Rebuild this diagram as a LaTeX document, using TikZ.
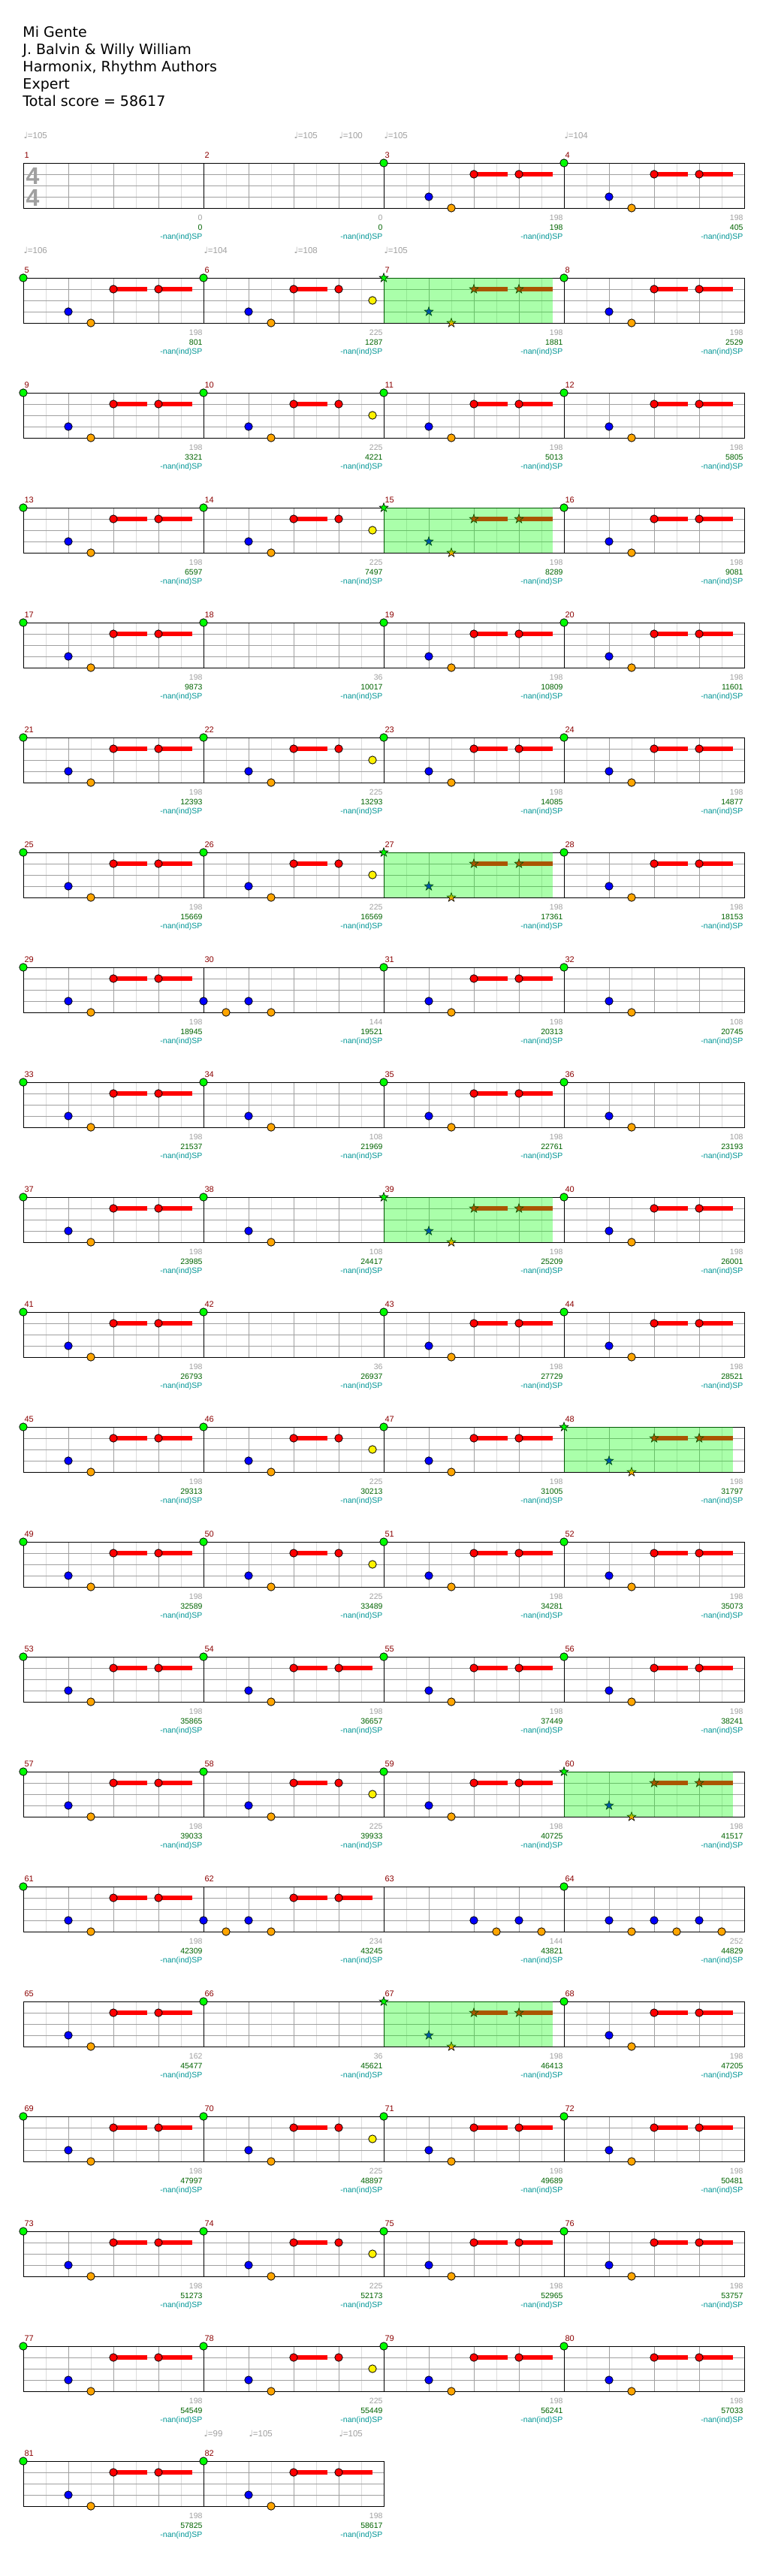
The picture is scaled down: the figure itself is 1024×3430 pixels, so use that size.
\documentclass[tikz,border=0pt]{standalone}
\usepackage{fontspec}
\setmainfont{DejaVu Sans}
\newfontfamily\labfont{Liberation Sans}
\usetikzlibrary{positioning}
\definecolor{mnumc}{RGB}{139,0,0}
\definecolor{cntc}{RGB}{160,160,160}
\definecolor{scrc}{RGB}{0,100,0}
\definecolor{spc}{RGB}{0,150,150}
\definecolor{gridlt}{RGB}{220,220,220}
\definecolor{griddk}{RGB}{160,160,160}
\definecolor{gemorange}{RGB}{255,165,0}
\tikzset{
  gem/.style={draw=black,line width=.8pt},
  lbl/.style={anchor=base east,inner sep=0pt,font=\labfont\fontsize{10.5}{12}\selectfont},
  mnum/.style={anchor=base west,inner sep=0pt,text=mnumc,font=\labfont\fontsize{11}{12}\selectfont},
  bpm/.style={anchor=base west,inner sep=0pt,text=cntc,font=\fontsize{11.5}{12}\selectfont},
  head/.style={anchor=base west,inner sep=0pt,font=\fontsize{19}{23}\selectfont},
  timesig/.style={anchor=base west,inner sep=0pt,text=cntc,font=\labfont\bfseries\fontsize{32}{32}\selectfont}
}
\newcommand{\gemdot}[3]{\filldraw[gem,fill=#3] (\mx+#1,\my+15*#2) circle (5.2pt);}
\newcommand{\stargem}[3]{\filldraw[gem,line width=.6pt,fill=#3] (\mx+#1,\my+15*#2) +(-90:6.3) -- +(-54:2.5) -- +(-18:6.3) -- +(18:2.5) -- +(54:6.3) -- +(90:2.5) -- +(126:6.3) -- +(162:2.5) -- +(198:6.3) -- +(234:2.5) -- cycle;}
\newcommand{\tailbar}[3]{\fill[#3] (\mx+#1,\my+15*#2-3.3) rectangle ++(44.7,6.6);}
\newcommand{\mtE}{}
\newcommand{\mtS}{\tailbar{120}{1}{red}\tailbar{180}{1}{red}\gm{0}{0}{green}\gm{60}{3}{blue}\gm{90}{4}{gemorange}\gm{120}{1}{red}\gm{180}{1}{red}}
\newcommand{\mtY}{\tailbar{120}{1}{red}\gm{0}{0}{green}\gm{60}{3}{blue}\gm{90}{4}{gemorange}\gm{120}{1}{red}\gm{180}{1}{red}\gm{225}{2}{yellow}}
\newcommand{\mtP}{\let\gm\stargem\mtS\fill[green,opacity=.333] (\mx,\my) rectangle (\mx+224.5,\my+60);}
\newcommand{\mtG}{\gm{0}{0}{green}}
\newcommand{\mtT}{\gm{0}{0}{green}\gm{60}{3}{blue}\gm{90}{4}{gemorange}}
\newcommand{\mtA}{\gm{0}{3}{blue}\gm{30}{4}{gemorange}\gm{60}{3}{blue}\gm{90}{4}{gemorange}}
\newcommand{\mtB}{\tailbar{120}{1}{red}\tailbar{180}{1}{red}\mtA\gm{120}{1}{red}\gm{180}{1}{red}}
\newcommand{\mtC}{\gm{120}{3}{blue}\gm{150}{4}{gemorange}\gm{180}{3}{blue}\gm{210}{4}{gemorange}}
\newcommand{\mtD}{\mtT\mtC}
\newcommand{\mtF}{\tailbar{120}{1}{red}\tailbar{180}{1}{red}\gm{60}{3}{blue}\gm{90}{4}{gemorange}\gm{120}{1}{red}\gm{180}{1}{red}}
\begin{document}
\begin{tikzpicture}[x=1pt,y=-1pt,line width=1pt]
  \fill[white] (0,0) rectangle (1024,3430);
  \useasboundingbox (0,0) rectangle (1024,3430);
  \node[head] (t1) at (30,49) {Mi Gente};
  \node[head] (t2) at (30,72) {J. Balvin \& Willy William};
  \node[head] (t3) at (30,95) {Harmonix, Rhythm Authors};
  \node[head] (t4) at (30,118) {Expert};
  \node[head] (t5) at (30,141) {Total score = 58617};
  \foreach \mtype/\mcount/\mscore [count=\i from 0] in {
    E/0/0, E/0/0, S/198/198, S/198/405,
    S/198/801, Y/225/1287, P/198/1881, S/198/2529,
    S/198/3321, Y/225/4221, S/198/5013, S/198/5805,
    S/198/6597, Y/225/7497, P/198/8289, S/198/9081,
    S/198/9873, G/36/10017, S/198/10809, S/198/11601,
    S/198/12393, Y/225/13293, S/198/14085, S/198/14877,
    S/198/15669, Y/225/16569, P/198/17361, S/198/18153,
    S/198/18945, A/144/19521, S/198/20313, T/108/20745,
    S/198/21537, T/108/21969, S/198/22761, T/108/23193,
    S/198/23985, T/108/24417, P/198/25209, S/198/26001,
    S/198/26793, G/36/26937, S/198/27729, S/198/28521,
    S/198/29313, Y/225/30213, S/198/31005, P/198/31797,
    S/198/32589, Y/225/33489, S/198/34281, S/198/35073,
    S/198/35865, S/198/36657, S/198/37449, S/198/38241,
    S/198/39033, Y/225/39933, S/198/40725, P/198/41517,
    S/198/42309, B/234/43245, C/144/43821, D/252/44829,
    F/162/45477, G/36/45621, P/198/46413, S/198/47205,
    S/198/47997, Y/225/48897, S/198/49689, S/198/50481,
    S/198/51273, Y/225/52173, S/198/52965, S/198/53757,
    S/198/54549, Y/225/55449, S/198/56241, S/198/57033,
    S/198/57825, S/198/58617} {
    \pgfmathsetmacro{\mx}{31+240*mod(\i,4)}
    \pgfmathsetmacro{\my}{217+153*int(\i/4)}
    \pgfmathtruncatemacro{\n}{\i+1}
    \foreach \o in {30,90,150,210} {\draw[gridlt] (\mx+\o,\my) -- (\mx+\o,\my+60);}
    \foreach \o in {60,120,180} {\draw[griddk] (\mx+\o,\my) -- (\mx+\o,\my+60);}
    \foreach \l in {15,30,45} {\draw[griddk] (\mx,\my+\l) -- (\mx+240,\my+\l);}
    \draw (\mx,\my) rectangle (\mx+240,\my+60);
    \let\gm\gemdot
    \csname mt\mtype\endcsname
    \node[mnum] (mn\n) at (\mx+1,\my-7) {\n};
    \node[lbl,text=cntc] (cnt\n) at (\mx+239,\my+76) {\mcount};
    \node[lbl,text=scrc] (scr\n) at (\mx+239,\my+89) {\mscore};
    \node[lbl,text=spc] (sp\n) at (\mx+239,\my+101) {-nan(ind)SP};
  }
  \node[timesig] (ts1) at (34,245) {4};
  \node[timesig] (ts2) at (34,274) {4};
  \foreach \x/\r/\b [count=\k] in {31/0/105, 391/0/105, 451/0/100, 511/0/105, 751/0/104,
      31/1/106, 271/1/104, 391/1/108, 511/1/105, 271/20/99, 331/20/105, 451/20/105}
    {\node[bpm] (bpm\k) at (\x,217+153*\r-33) {♩{\labfont=\b}};}
\end{tikzpicture}
\end{document}
